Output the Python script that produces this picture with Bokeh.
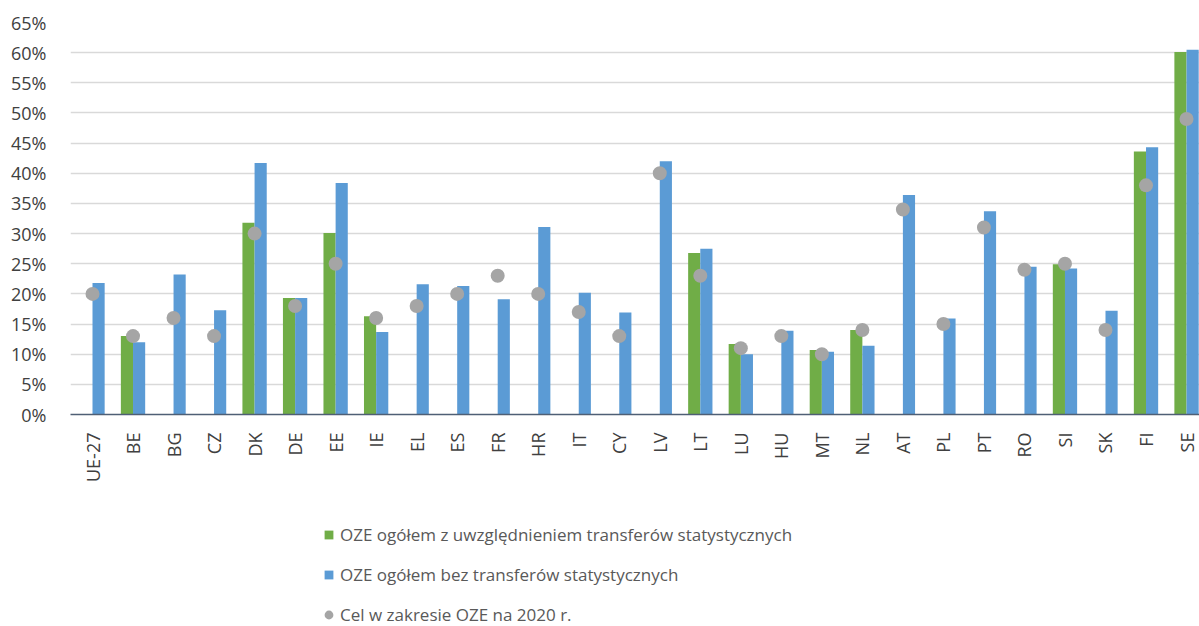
from bokeh.plotting import figure
from bokeh.layouts import column
from bokeh.models import FixedTicker, PrintfTickFormatter, Legend, LegendItem, Range1d
from bokeh.embed import file_html
from bokeh.resources import INLINE

categories = ["UE-27", "BE", "BG", "CZ", "DK", "DE", "EE", "IE", "EL", "ES", "FR", "HR", "IT", "CY",
              "LV", "LT", "LU", "HU", "MT", "NL", "AT", "PL", "PT", "RO", "SI", "SK", "FI", "SE"]
with_transfers = [None, 13.0, None, None, 31.8, 19.3, 30.1, 16.3, None, None, None, None, None, None,
                  None, 26.8, 11.7, None, 10.7, 14.0, None, None, None, None, 24.9, None, 43.6, 60.1]
without_transfers = [21.8, 12.0, 23.2, 17.3, 41.7, 19.3, 38.4, 13.7, 21.6, 21.3, 19.1, 31.1, 20.2, 16.9,
                     42.0, 27.5, 10.0, 13.9, 10.4, 11.4, 36.4, 15.9, 33.7, 24.5, 24.2, 17.2, 44.3, 60.5]
target_2020 = [20, 13, 16, 13, 30, 18, 25, 16, 18, 20, 23, 20, 17, 13,
               40, 23, 11, 13, 10, 14, 34, 15, 31, 24, 25, 14, 38, 49]
y_ticks = list(range(0, 70, 5))

labels = {
    "green": "OZE ogółem z uwzględnieniem transferów statystycznych",
    "blue": "OZE ogółem bez transferów statystycznych",
    "dot": "Cel w zakresie OZE na 2020 r.",
}

GREEN = "#70ad47"
BLUE = "#5b9bd5"
GREY = "#a5a5a5"
FONT = "Open Sans"

idx = list(range(len(categories)))
g_x = [i - 0.15 for i, v in zip(idx, with_transfers) if v is not None]
g_top = [v for v in with_transfers if v is not None]
b_x = [i + 0.15 for i in idx]

p = figure(width=1199, height=490, output_backend="svg", toolbar_location=None,
           x_range=Range1d(-0.543, 27.32), y_range=Range1d(0, 65),
           min_border_left=70, min_border_right=0, min_border_top=22, min_border_bottom=76)
p.outline_line_color = None

p.vbar(x=g_x, top=g_top, bottom=0, width=0.3, color=GREEN, line_color=None)
p.vbar(x=b_x, top=without_transfers, bottom=0, width=0.3, color=BLUE, line_color=None)
p.scatter(x=idx, y=target_2020, size=14, color=GREY, line_color=None)

p.xgrid.visible = False
p.ygrid.grid_line_color = "#d9d9d9"
p.ygrid.grid_line_width = 1.5
p.ygrid.ticker = FixedTicker(ticks=y_ticks)

p.yaxis.ticker = FixedTicker(ticks=y_ticks)
p.yaxis.formatter = PrintfTickFormatter(format="%d%%")
p.yaxis.axis_line_color = None
p.yaxis.major_tick_line_color = None
p.yaxis.minor_tick_line_color = None
p.yaxis.major_label_standoff = 18
p.yaxis.major_label_text_font = FONT
p.yaxis.major_label_text_font_size = "18px"
p.yaxis.major_label_text_color = "#404040"

p.xaxis.ticker = FixedTicker(ticks=idx)
p.xaxis.major_label_overrides = {i: c for i, c in zip(idx, categories)}
p.xaxis.major_label_orientation = 3.14159265 / 2
p.xaxis.axis_line_color = "#4f5f75"
p.xaxis.axis_line_width = 1.5
p.xaxis.major_tick_line_color = None
p.xaxis.minor_tick_line_color = None
p.xaxis.major_label_standoff = 12
p.xaxis.major_label_text_font = FONT
p.xaxis.major_label_text_font_size = "18px"
p.xaxis.major_label_text_color = "#404040"

# legend panel (its own small figure below the chart)
lg = figure(width=1199, height=136, output_backend="svg", toolbar_location=None,
            x_range=Range1d(0, 1), y_range=Range1d(0, 1),
            x_axis_type=None, y_axis_type=None,
            min_border_left=0, min_border_right=0, min_border_top=0, min_border_bottom=0)
lg.outline_line_color = None
lg.grid.visible = False
# keys for the legend: one mark each, kept outside the visible range
lrg = lg.vbar(x=[5], top=[5], bottom=4, width=0.3, color=GREEN, line_color=None)
lrb = lg.vbar(x=[5], top=[5], bottom=4, width=0.3, color=BLUE, line_color=None)
lrd = lg.ellipse(x=[5], y=[5], width=10, height=10, width_units="screen", height_units="screen",
                 color=GREY, line_color=None)

legend = Legend(items=[LegendItem(label=labels["green"], renderers=[lrg]),
                       LegendItem(label=labels["blue"], renderers=[lrb]),
                       LegendItem(label=labels["dot"], renderers=[lrd])],
                location=(253, 0), orientation="vertical",
                glyph_width=11, glyph_height=11, label_height=18, spacing=17,
                label_standoff=6, padding=0, margin=0,
                border_line_color=None, background_fill_alpha=0,
                label_text_font=FONT, label_text_font_size="17px", label_text_color="#595959")
lg.add_layout(legend, "center")

layout = column(p, lg, spacing=0)
open("out.html", "w").write(file_html(layout, INLINE))
